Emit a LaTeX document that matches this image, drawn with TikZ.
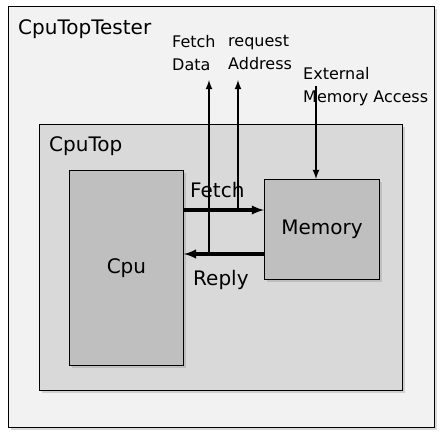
\documentclass[tikz,border=0pt]{standalone}
\usepackage{fontspec}
\setmainfont{DejaVu Sans}
\usepackage{xcolor}
\usetikzlibrary{positioning,shadows,calc}
\definecolor{testerfill}{HTML}{F2F2F2}
\definecolor{topfill}{HTML}{D9D9D9}
\definecolor{unitfill}{HTML}{BFBFBF}

\begin{document}
\begin{tikzpicture}[x=1pt,y=-1pt,
		box/.style={draw=black,line width=0.9pt,anchor=north west,inner sep=0pt,
			drop shadow={shadow xshift=2.5pt,shadow yshift=-2.5pt,opacity=0.3}},
		big/.style={font=\fontsize{20}{24}\selectfont,inner sep=0pt},
		small/.style={font=\fontsize{16}{23}\selectfont,inner sep=0pt,align=left,anchor=north west},
		bus/.style={line width=3.1pt,-latex},
		wire/.style={line width=2.1pt,-latex}]
		\useasboundingbox (0,0) rectangle (444,437);
		% the boxes
		\node[box,fill=testerfill,minimum width=426pt,minimum height=421pt] (tester) at (8,6) {};
		\node[box,fill=topfill,minimum width=363pt,minimum height=266pt] (cputop) at (39,124) {};
		\node[box,fill=unitfill,minimum width=114pt,minimum height=195pt,big] (cpu) at (69,170) {Cpu};
		\node[box,fill=unitfill,minimum width=115pt,minimum height=100pt,big] (memory) at (264,179) {Memory};
		% the labels
		\node[big,anchor=base west] (testerlabel) at (18,34) {CpuTopTester};
		\node[big,anchor=base west] (cputoplabel) at (49,151) {CpuTop};
		\node[big,anchor=base west] (fetchlabel) at (190,197) {Fetch};
		\node[big,anchor=base west] (replylabel) at (193,285) {Reply};
		\node[small] (datalabel) at (172,35) {Fetch\\Data};
		\node[small] (addrlabel) at (228,35) {request\\Address};
		\node[small] (extlabel) at (303,67) {External\\Memory Access};
		% the connectors
		\coordinate (fetchrow) at (0,210);
		\coordinate (replyrow) at (0,254);
		\coordinate (datacol) at (209,80);
		\coordinate (addrcol) at (238,80);
		\coordinate (extcol) at (316,86);
		\draw[bus] (cpu.east |- fetchrow) -- (memory.west |- fetchrow);
		\draw[bus] (memory.west |- replyrow) -- (cpu.east |- replyrow);
		\draw[wire] (datacol |- replyrow) -- (datacol);
		\draw[wire] (addrcol |- fetchrow) -- (addrcol);
		\draw[wire] (extcol) -- (extcol |- memory.north);
	\end{tikzpicture}
\end{document}
